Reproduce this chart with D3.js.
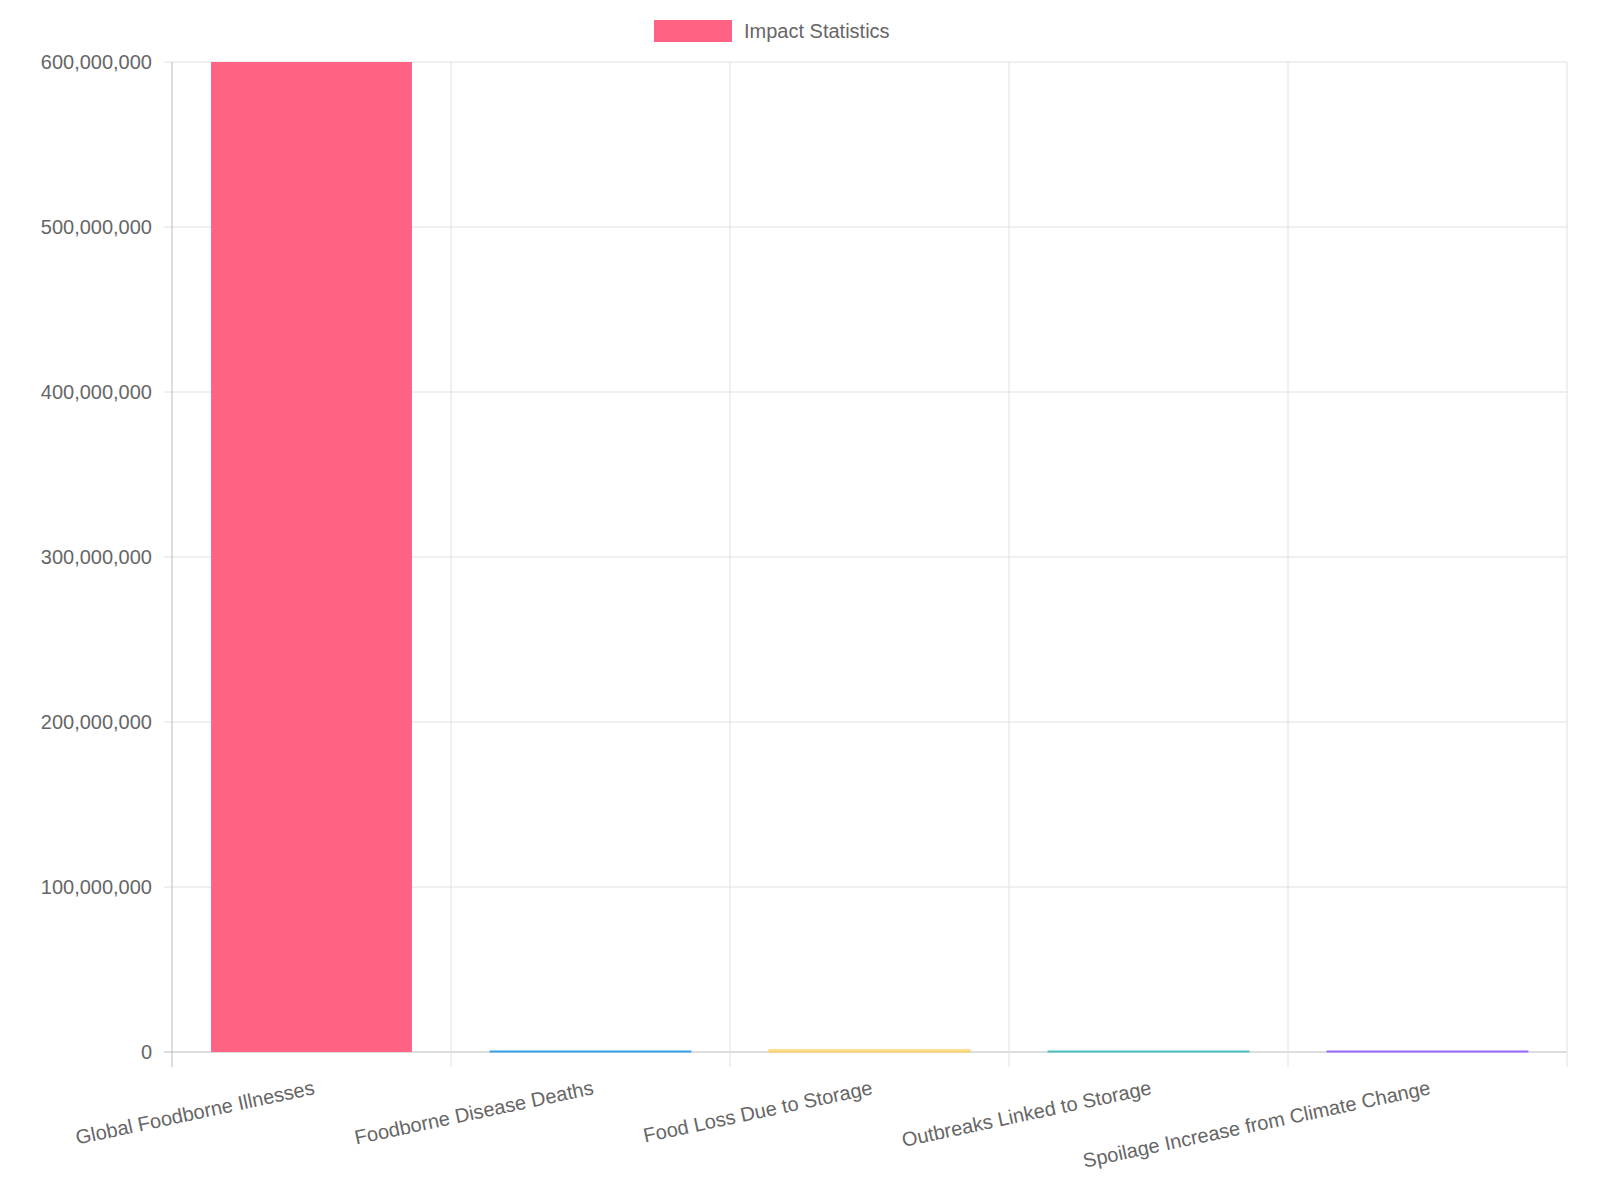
<!DOCTYPE html>
<html>
<head>
<meta charset="utf-8">
<script src="https://cdn.jsdelivr.net/npm/d3@7"></script>
<style>
  body { margin: 0; background: #fff; }
  text { font-family: "Liberation Sans", Arial, sans-serif; fill: #666; }
</style>
</head>
<body>
<div id="chart"></div>
<script>
const categories = [
  "Global Foodborne Illnesses",
  "Foodborne Disease Deaths",
  "Food Loss Due to Storage",
  "Outbreaks Linked to Storage",
  "Spoilage Increase from Climate Change"
];
const values = [600000000, 420000, 1300000, 500000, 30];
const fills = ["rgb(255,99,132)", "rgba(54,162,235,0.5)", "rgba(255,206,86,0.5)", "rgba(75,192,192,0.5)", "rgba(153,102,255,0.5)"];
const strokes = ["rgb(255,99,132)", "rgb(54,162,235)", "rgb(255,206,86)", "rgb(75,192,192)", "rgb(153,102,255)"];
const yTicks = [0, 100000000, 200000000, 300000000, 400000000, 500000000, 600000000];

const svgWidth = 1600, svgHeight = 1200;
const margin = { top: 62, right: 33, bottom: 148, left: 172 };
const width = svgWidth - margin.left - margin.right;
const height = svgHeight - margin.top - margin.bottom - 0;

const svg = d3.select("#chart").append("svg")
  .attr("width", svgWidth).attr("height", svgHeight);
const g = svg.append("g").attr("transform", `translate(${margin.left},${margin.top})`);

const plotH = 990;
const x = d3.scaleBand().domain(categories).range([0, width]).paddingInner(0).paddingOuter(0);
const y = d3.scaleLinear().domain([0, 600000000]).range([plotH, 0]);

// horizontal grid
g.selectAll(".hgrid").data(yTicks).enter().append("line")
  .attr("x1", -8).attr("x2", width)
  .attr("y1", d => y(d)).attr("y2", d => y(d))
  .attr("stroke", d => d === 0 ? "#bbb" : "#e0e0e0").attr("stroke-width", 1);

// vertical grid at band edges
const edges = categories.map(c => x(c)).concat([width]);
g.selectAll(".vgrid").data(edges).enter().append("line")
  .attr("x1", d => d).attr("x2", d => d)
  .attr("y1", 0).attr("y2", plotH + 15)
  .attr("stroke", (d, i) => i === 0 ? "#bbb" : "#e0e0e0").attr("stroke-width", 1);

// y labels
g.selectAll(".ylab").data(yTicks).enter().append("text")
  .attr("x", -20).attr("y", d => y(d)).attr("dy", "0.35em")
  .attr("text-anchor", "end").attr("font-size", 20)
  .text(d => d3.format(",")(d));

// bars
const bw = x.bandwidth() * 0.72;
g.selectAll(".bar").data(values).enter().append("rect")
  .attr("x", (d, i) => x(categories[i]) + (x.bandwidth() - bw) / 2)
  .attr("width", bw)
  .attr("y", d => Math.min(y(d), plotH - 1))
  .attr("height", d => Math.max(plotH - y(d), 1))
  .attr("fill", (d, i) => fills[i])
  .attr("stroke", (d, i) => strokes[i]).attr("stroke-width", (d, i) => i === 0 ? 0 : 1);

// x labels
g.selectAll(".xlab").data(categories).enter().append("text")
  .attr("font-size", 20).attr("text-anchor", "end")
  .attr("transform", d => `translate(${x(d) + x.bandwidth() / 2 + 4},${plotH + 42}) rotate(-12)`)
  .text(d => d);

// legend
const leg = svg.append("g");
leg.append("rect").attr("x", 654).attr("y", 20).attr("width", 78).attr("height", 22)
  .attr("fill", "rgb(255,99,132)");
leg.append("text").attr("x", 744).attr("y", 31).attr("dy", "0.35em")
  .attr("font-size", 20).text("Impact Statistics");
</script>
</body>
</html>
